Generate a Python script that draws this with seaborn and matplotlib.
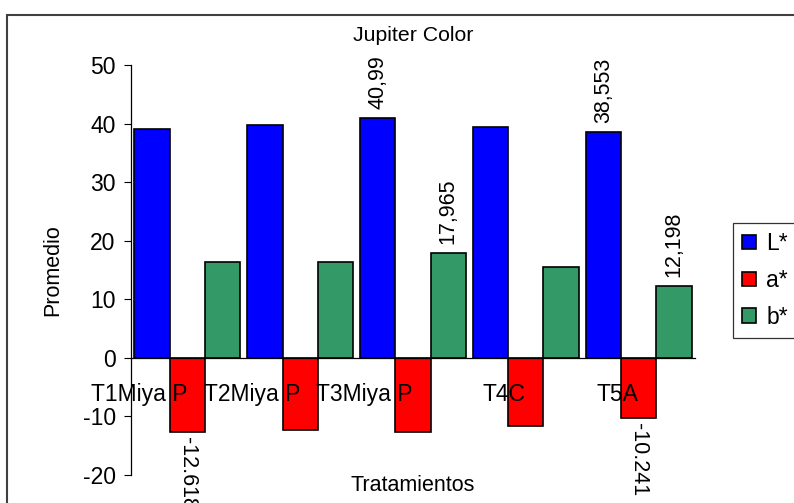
import matplotlib
matplotlib.use("Agg")
import matplotlib.pyplot as plt
import seaborn as sns
import pandas as pd
from matplotlib.patches import Rectangle

# ---- data ----
categories = ["T1Miya P", "T2Miya P", "T3Miya P", "T4C", "T5A"]
series = ["L*", "a*", "b*"]
L_vals = [39.08, 39.76, 40.99, 39.40, 38.553]
a_vals = [-12.618, -12.29, -12.60, -11.60, -10.241]
b_vals = [16.40, 16.40, 17.965, 15.50, 12.198]
# labelled bars: (category, series, text)
label_cats = ["T3Miya P", "T5A", "T3Miya P", "T5A", "T1Miya P", "T5A"]
label_series = ["L*", "L*", "b*", "b*", "a*", "a*"]
label_texts = ["40,99", "38,553", "17,965", "12,198", "-12.618", "-10.241"]
yticks = [-20, -10, 0, 10, 20, 30, 40, 50]

colors = {"L*": "#0000FF", "a*": "#FF0000", "b*": "#339966"}

df = pd.DataFrame({
    "Tratamiento": categories * 3,
    "Serie": ["L*"] * 5 + ["a*"] * 5 + ["b*"] * 5,
    "Valor": L_vals + a_vals + b_vals,
})

sns.set_style("white")
plt.rcParams["font.family"] = ["Liberation Sans", "DejaVu Sans"]
plt.rcParams["text.color"] = "black"
plt.rcParams["axes.labelcolor"] = "black"
plt.rcParams["xtick.color"] = "black"
plt.rcParams["ytick.color"] = "black"

fig = plt.figure(figsize=(7.94, 5.03), dpi=100)
ax = fig.add_axes([131 / 794, 1 - 475 / 503, (695 - 131) / 794, (475 - 65) / 503])

sns.barplot(data=df, x="Tratamiento", y="Valor", hue="Serie", order=categories,
            hue_order=series, palette=colors, width=0.94, edgecolor="black",
            linewidth=1.2, saturation=1, ax=ax, errorbar=None)

ax.set_axisbelow(False)
ax.set_ylim(-20, 50)
ax.set_xlim(-0.5, len(categories) - 0.5)
ax.set_yticks(yticks)
ax.set_yticklabels([str(t) for t in yticks], fontsize=16.5)

# x axis at zero, ticks at group boundaries, labels near centers
ax.spines["bottom"].set_position(("data", 0))
ax.spines["top"].set_visible(False)
ax.spines["right"].set_visible(False)
for s in ["left", "bottom"]:
    ax.spines[s].set_color("black")
    ax.spines[s].set_linewidth(0.9)
ax.set_xticks([i - 0.5 for i in range(len(categories) + 1)])
ax.set_xticklabels([""] * (len(categories) + 1))
ax.set_xticks(range(len(categories)), minor=True)
ax.set_xticklabels(categories, minor=True, fontsize=16.5, ha="right")
ax.tick_params(axis="x", which="major", direction="out", length=5, color="black", width=0.8)
ax.tick_params(axis="x", which="minor", length=0, pad=18)
ax.tick_params(axis="y", direction="out", length=5, color="black", width=0.8, left=True, pad=6)

ax.set_xlabel("Tratamientos", fontsize=15.5)
ax.xaxis.set_label_coords(0.5, 0.0)
ax.set_ylabel("Promedio", fontsize=15.5)
ax.yaxis.set_label_coords(-0.12, 0.5)
ax.set_title("Jupiter Color", fontsize=15.3, pad=17)

# value labels
for cat, ser, txt in zip(label_cats, label_series, label_texts):
    ci = categories.index(cat)
    si = series.index(ser)
    bar = ax.containers[si][ci]
    xc = bar.get_x() + bar.get_width() / 2
    h = bar.get_height()
    if h >= 0:
        ax.annotate(txt, (xc, h), xytext=(0, 6.5), textcoords="offset points",
                    rotation=90, ha="center", va="bottom", fontsize=15.5)
    else:
        ax.annotate(txt, (xc, h), xytext=(0, -3.5), textcoords="offset points",
                    rotation=270, ha="center", va="top", fontsize=15.5, annotation_clip=False)

# legend
handles, labels = ax.get_legend_handles_labels()
ax.legend(handles, labels, loc="upper left", bbox_to_anchor=(733 / 794, 1 - 223 / 503),
          bbox_transform=fig.transFigure, frameon=True, fancybox=False,
          edgecolor="black", fontsize=16.5, handlelength=0.6, handleheight=0.6,
          handletextpad=0.45, labelspacing=0.6, borderaxespad=0, borderpad=0.4)
ax.get_legend().get_frame().set_linewidth(0.9)

# outer chart border
fig.patches.append(Rectangle((7 / 794, -0.1), 1.2, 1 - 15 / 503 + 0.1,
                             transform=fig.transFigure, fill=False,
                             edgecolor="#404040", linewidth=1.5))

fig.savefig("out.png", dpi=100)
